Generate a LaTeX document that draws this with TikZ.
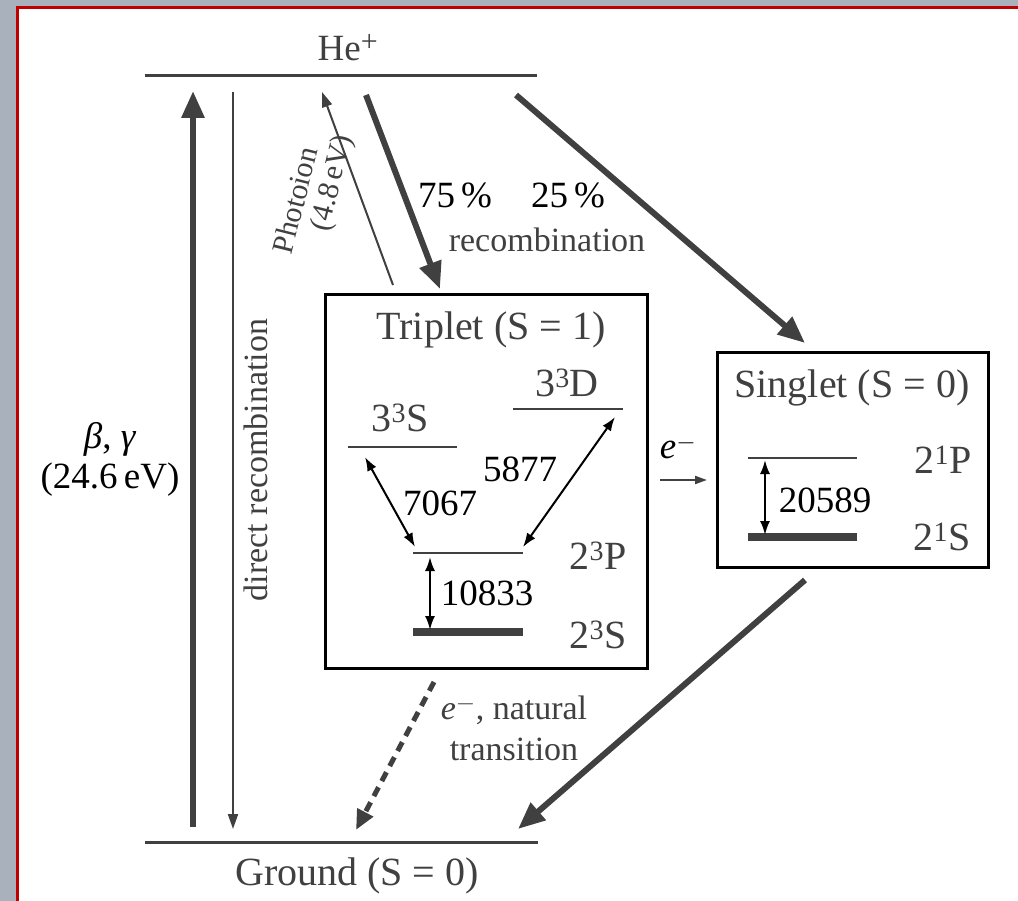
\documentclass[tikz,border=0pt]{standalone}
\usepackage{fontspec}
\usepackage{graphicx}
\setmainfont{Liberation Serif}
\usetikzlibrary{arrows.meta}
\definecolor{dg}{HTML}{404040}
\definecolor{bgc}{HTML}{A9B1BD}
\definecolor{rb}{HTML}{C00000}
\tikzset{
  big/.style={font=\fontsize{40}{42}\selectfont},
  num/.style={font=\fontsize{37}{40}\selectfont},
  small/.style={font=\fontsize{34}{41}\selectfont},
  rotsmall/.style={font=\fontsize{30}{32}\selectfont},
  gtext/.style={text=dg, inner sep=0pt},
  btext/.style={text=black, inner sep=0pt},
  level/.style={draw=dg, line width=2.5pt},
  heavylevel/.style={draw=dg, line width=8pt},
  fat/.style={draw=dg, line width=6pt, -{Triangle[length=27pt,width=22pt]}},
  thinarr/.style={draw=dg, line width=2pt, -{Triangle[length=15pt,width=10pt]}},
  dashedarr/.style={draw=dg, line width=5pt, dash pattern=on 10pt off 7pt, -{Triangle[length=20pt,width=17pt]}},
  dbl/.style={draw=black, line width=2pt, {Latex[length=14pt,width=10pt]}-{Latex[length=14pt,width=10pt]}},
  stbox/.style={draw=black, line width=3pt, inner sep=0pt}
}
\begin{document}
\begin{tikzpicture}[x=1pt,y=-1pt]
\useasboundingbox (0,0) rectangle (1018,901);
% background
\fill[bgc] (0,0) rectangle (1018,901);
\fill[white] (17,8) rectangle (1018,901);
\draw[rb, line width=3pt] (17,901) -- (17,8) -- (1018,8);

% main levels
\coordinate (heL) at (145,76); \coordinate (heR) at (537,76);
\coordinate (grL) at (145,842); \coordinate (grR) at (538,842);
\draw[level, line width=3pt] (heL) -- (heR);
\draw[level, line width=3pt] (grL) -- (grR);
\node[gtext, num] (he) at (348,48) {He\textsuperscript{\fontsize{30}{30}\selectfont +}};
\node[gtext, big] (gr) at (357,876) {Ground (S = 0)};

% boxes
\node[stbox, minimum width=322pt, minimum height=373pt] (trip) at (486,481.5) {};
\node[stbox, minimum width=271pt, minimum height=214pt] (sing) at (852.5,460) {};
\node[gtext, big] (triplab) at (491,330) {Triplet (S = 1)};
\node[gtext, big] (singlab) at (852,388) {Singlet (S = 0)};

% triplet levels
\coordinate (s3L) at (348,447); \coordinate (s3R) at (457,447);
\coordinate (d3L) at (513,409); \coordinate (d3R) at (623,409);
\coordinate (p2L) at (413,553); \coordinate (p2R) at (523,553);
\coordinate (s2L) at (413,632); \coordinate (s2R) at (523,632);
\draw[level] (s3L) -- (s3R);
\draw[level] (d3L) -- (d3R);
\draw[level] (p2L) -- (p2R);
\draw[heavylevel] (s2L) -- (s2R);
\node[gtext, big] (l33s) at (400,418) {3\textsuperscript{3}S};
\node[gtext, big] (l33d) at (567,383) {3\textsuperscript{3}D};
\node[gtext, big] (l23p) at (598,556) {2\textsuperscript{3}P};
\node[gtext, big] (l23s) at (598,635) {2\textsuperscript{3}S};

\coordinate (a1) at (365,457); \coordinate (a2) at (415,547);
\coordinate (b1) at (615,417); \coordinate (b2) at (523,547);
\coordinate (c1) at (430,557); \coordinate (c2) at (430,630);
\draw[dbl] (a1) -- (a2);
\draw[dbl] (b1) -- (b2);
\draw[dbl] (c1) -- (c2);
\node[btext, num] (n7067) at (440,503) {7067};
\node[btext, num] (n5877) at (520,469) {5877};
\node[btext, num] (n10833) at (487,593) {10833};

% singlet levels
\coordinate (p1L) at (748,458); \coordinate (p1R) at (857,458);
\coordinate (s1L) at (748,537); \coordinate (s1R) at (857,537);
\draw[level] (p1L) -- (p1R);
\draw[heavylevel] (s1L) -- (s1R);
\node[gtext, big] (l21p) at (943,460) {2\textsuperscript{1}P};
\node[gtext, big] (l21s) at (942,537) {2\textsuperscript{1}S};
\coordinate (d1) at (765,460); \coordinate (d2) at (765,535);
\draw[dbl] (d1) -- (d2);
\node[btext, num] (n20589) at (825,500) {20589};

% e- between boxes
\coordinate (e1) at (660,480); \coordinate (e2) at (707,480);
\draw[thinarr, -{Triangle[length=12pt,width=8pt]}] (e1) -- (e2);
\node[btext, num] (elab) at (678,447) {\textit{e}$^{-}$};

% left arrows
\coordinate (f1) at (193,827); \coordinate (f2) at (193,91);
\draw[fat] (f1) -- (f2);
\node[btext, num, align=center] (bg) at (110,459) {\textit{β}, \textit{γ}\\(24.6\,eV)};
\coordinate (r1) at (233,92); \coordinate (r2) at (233,829);
\draw[thinarr] (r1) -- (r2);
\node[gtext, small] (dr) at (256,460) {\rotatebox{90}{direct recombination}};

% photoion
\coordinate (ph1) at (393,285); \coordinate (ph2) at (322,92);
\draw[thinarr] (ph1) -- (ph2);
\node[gtext, rotsmall] (phl1) at (295,200) {\rotatebox{76}{Photoion}};
\node[gtext, rotsmall] (phl2) at (333,183) {\rotatebox{76}{(4.8\,eV)}};

% recombination arrows
\coordinate (k1) at (366,95); \coordinate (k2) at (440,289);
\draw[fat] (k1) -- (k2);
\coordinate (m1) at (516,95); \coordinate (m2) at (805,343);
\draw[fat] (m1) -- (m2);
\node[btext, num] (p75) at (455,195) {75\,\%};
\node[btext, num] (p25) at (568,195) {25\,\%};
\node[gtext, small] (rec) at (547,240) {recombination};

% decays to ground
\coordinate (x1) at (434,682); \coordinate (x2) at (356,830);
\draw[dashedarr] (x1) -- (x2);
\node[gtext, small, align=center] (nat) at (514,728) {\textit{e}$^{-}$, natural\\transition};
\coordinate (y1) at (805,580); \coordinate (y2) at (518,829);
\draw[fat] (y1) -- (y2);
\end{tikzpicture}
\end{document}
